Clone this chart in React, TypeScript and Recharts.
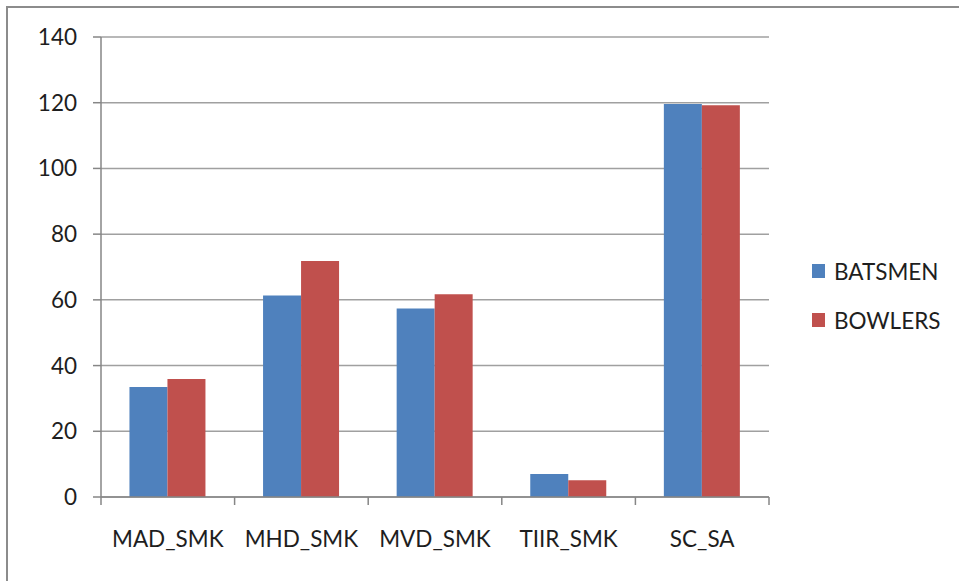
import React from 'react'
import { BarChart, Bar, XAxis, YAxis, CartesianGrid } from 'recharts'

const categories = ['MAD_SMK', 'MHD_SMK', 'MVD_SMK', 'TIIR_SMK', 'SC_SA']
const batsmen = [33.5, 61.3, 57.4, 7.0, 119.6]
const bowlers = [35.9, 71.8, 61.7, 5.1, 119.2]
const yTicks = [0, 20, 40, 60, 80, 100, 120, 140]

const series = [
  { key: 'BATSMEN', color: '#4F81BD' },
  { key: 'BOWLERS', color: '#C0504D' },
]

const data = categories.map((name, i) => ({
  name,
  BATSMEN: batsmen[i],
  BOWLERS: bowlers[i],
}))

const FONT = 'Lato, "Open Sans", sans-serif'
const AXIS_GRAY = '#868686'
const TEXT = '#1e1e1e'

// Category label plus boundary tick marks (ticks sit between categories, not under them)
const CategoryTick = (props: any) => {
  const { x, y, payload, index, visibleTicksCount, width } = props
  const band = width / visibleTicksCount
  const left = x - band / 2
  const right = x + band / 2
  return (
    <g>
      <line x1={left} y1={y} x2={left} y2={y + 8} stroke={AXIS_GRAY} strokeWidth={1.5} />
      {index === visibleTicksCount - 1 && (
        <line x1={right} y1={y} x2={right} y2={y + 8} stroke={AXIS_GRAY} strokeWidth={1.5} />
      )}
      <text x={x} y={y + 50} textAnchor="middle" fill={TEXT} fontSize={22.5} fontFamily={FONT}>
        {payload.value}
      </text>
    </g>
  )
}

// legend kept outside the svg so it doesn't eat into the plot area
const SideLegend = () => (
  <div
    style={{
      position: 'absolute',
      left: 812,
      top: 258,
      fontFamily: FONT,
      fontSize: 22.5,
      color: TEXT,
    }}
  >
    {series.map((s) => (
      <div key={s.key} style={{ display: 'flex', alignItems: 'center', height: 26, marginBottom: 23 }}>
        <span style={{ width: 13, height: 14, background: s.color, marginRight: 9 }} />
        <span>{s.key}</span>
      </div>
    ))}
  </div>
)

export default function App() {
  return (
    <div style={{ position: 'absolute', left: 0, top: 0, width: 959, height: 581, background: '#fff' }}>
      <div
        style={{
          position: 'absolute',
          left: 6,
          top: 6,
          right: 0,
          bottom: 0,
          borderTop: '2px solid #8c8c8c',
          borderLeft: '2px solid #8c8c8c',
        }}
      />
      <div style={{ position: 'absolute', left: 0, top: 0 }}>
        <BarChart
          width={959}
          height={581}
          data={data}
          margin={{ top: 37, right: 190, bottom: 34, left: 0 }}
          barCategoryGap="21.3%"
          barGap={0}
        >
          <CartesianGrid vertical={false} stroke="#a0a0a0" strokeWidth={1.5} />
          <XAxis
            dataKey="name"
            height={50}
            axisLine={{ stroke: AXIS_GRAY, strokeWidth: 1.5 }}
            tickLine={false}
            tickSize={0}
            tickMargin={0}
            interval={0}
            tick={<CategoryTick />}
          />
          <YAxis
            width={101}
            domain={[0, 140]}
            ticks={yTicks}
            interval={0}
            axisLine={{ stroke: AXIS_GRAY, strokeWidth: 1.5 }}
            tickLine={{ stroke: AXIS_GRAY, strokeWidth: 1.5 }}
            tickSize={8}
            tickMargin={16}
            tick={{ fontSize: 22.5, fontFamily: FONT, fill: TEXT }}
          />
          {series.map((s) => (
            <Bar key={s.key} dataKey={s.key} fill={s.color} isAnimationActive={false} />
          ))}
        </BarChart>
      </div>
      <SideLegend />
    </div>
  )
}
